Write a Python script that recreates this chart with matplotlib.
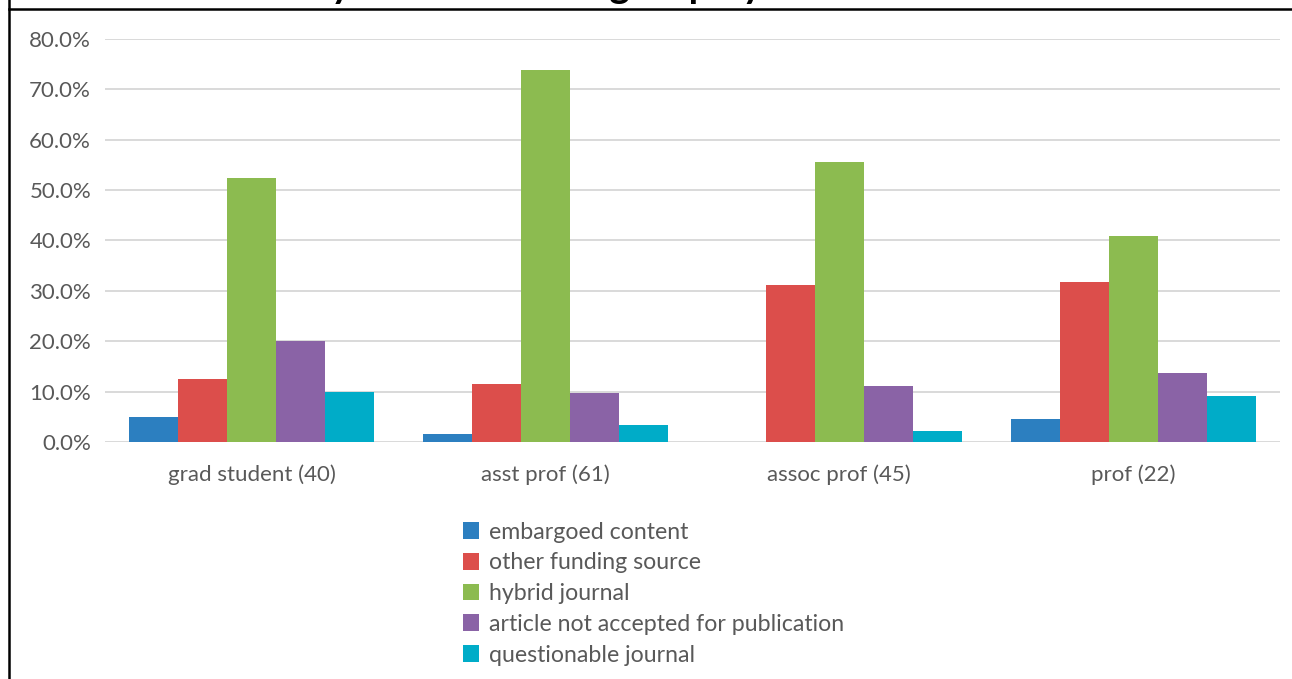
import matplotlib.pyplot as plt
import numpy as np
from matplotlib.lines import Line2D
from matplotlib.patches import Patch
from matplotlib.ticker import PercentFormatter

plt.rcParams['font.family'] = ['Lato', 'DejaVu Sans']

groups = ['grad student (40)', 'asst prof (61)', 'assoc prof (45)', 'prof (22)']
reasons = ['embargoed content', 'other funding source', 'hybrid journal',
           'article not accepted for publication', 'questionable journal']

# share of respondents in each group (percent)
embargoed = [5.0, 1.6, 0.0, 4.5]
other_funding = [12.5, 11.5, 31.1, 31.8]
hybrid = [52.5, 73.8, 55.6, 40.9]
not_accepted = [20.0, 9.8, 11.1, 13.6]
questionable = [10.0, 3.3, 2.2, 9.1]

series = [embargoed, other_funding, hybrid, not_accepted, questionable]
colors = ['#2c7fc0', '#dc4e4b', '#8cbb50', '#8a63a6', '#00acc8']

fig = plt.figure(figsize=(12.92, 6.79), dpi=100)
ax = fig.add_axes([105 / 1292, 1 - 442 / 679, 1175 / 1292, 403 / 679])

x = np.arange(len(groups))
w = 1 / 6
for i, (vals, c) in enumerate(zip(series, colors)):
    ax.bar(x + (i - 2) * w, vals, width=w, color=c, zorder=3)

ax.set_xlim(-0.5, len(groups) - 0.5)
ax.set_ylim(0, 80)
ax.set_yticks(np.arange(0, 81, 10))
ax.yaxis.set_major_formatter(PercentFormatter(decimals=1))
ax.set_xticks(x)
ax.set_xticklabels(groups)
ax.grid(axis='y', color='#d9d9d9', lw=1.4, zorder=0)
ax.tick_params(axis='both', length=0, labelsize=16, labelcolor='#595959')
ax.tick_params(axis='x', pad=16)
ax.tick_params(axis='y', pad=10)
for s in ax.spines.values():
    s.set_visible(False)

handles = [Patch(facecolor=c, label=r) for c, r in zip(colors, reasons)]
fig.legend(handles=handles, loc='upper left', bbox_to_anchor=(451 / 1292, 1 - 510 / 679),
           frameon=False, fontsize=16.7, labelcolor='#595959', handlelength=0.72,
           handleheight=0.72, handletextpad=0.4, labelspacing=0.42, borderpad=0)

# title sits above the frame, only its descenders show
fig.text(60 / 1292, 1 + 2 / 679, 'Reasons cited by academic role group by rank',
         fontsize=28, fontweight='bold', va='baseline', ha='left', color='black')

# frame lines
fig.add_artist(Line2D([9 / 1292, 9 / 1292], [0, 1], color='black', lw=1.8))
fig.add_artist(Line2D([9 / 1292, 1], [1 - 9 / 679, 1 - 9 / 679], color='black', lw=1.8))

fig.savefig('out.png', dpi=100)
